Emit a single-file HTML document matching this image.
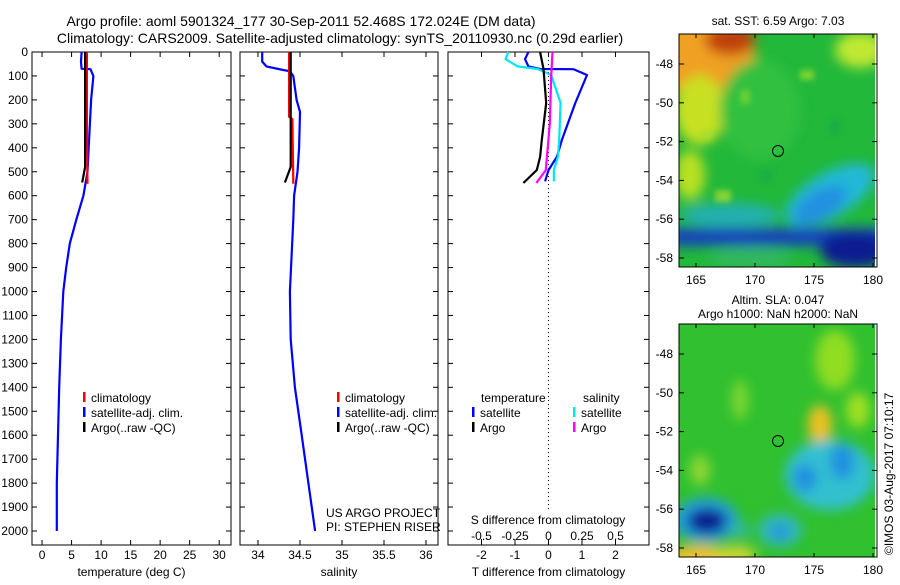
<!DOCTYPE html>
<html><head><meta charset="utf-8">
<style>
html,body{margin:0;padding:0;background:#fff;}
svg text{font-family:"Liberation Sans",sans-serif;font-size:12px;fill:#000;}
</style></head>
<body>
<svg id="chart" width="900" height="580" viewBox="0 0 900 580" xmlns="http://www.w3.org/2000/svg">
<defs>
<filter id="blur6" x="-20%" y="-20%" width="140%" height="140%"><feGaussianBlur stdDeviation="6"/></filter>
<filter id="blur3" x="-20%" y="-20%" width="140%" height="140%"><feGaussianBlur stdDeviation="3"/></filter>
<clipPath id="clipTop"><rect x="679" y="34" width="196" height="233"/></clipPath>
<clipPath id="clipBot"><rect x="679" y="324" width="196" height="233"/></clipPath>
</defs>
<text x="301" y="26" text-anchor="middle" style="font-size:14px">Argo profile: aoml 5901324_177 30-Sep-2011 52.468S 172.024E (DM data)</text>
<text x="340" y="43" text-anchor="middle" style="font-size:14px">Climatology: CARS2009. Satellite-adjusted climatology: synTS_20110930.nc (0.29d earlier)</text>

<!-- Top map -->
<g clip-path="url(#clipTop)">
<rect x="679" y="34" width="196" height="233" fill="#22b83a"/>
<g filter="url(#blur6)">
<ellipse cx="700" cy="55" rx="55" ry="40" fill="#f0a020"/>
<ellipse cx="730" cy="40" rx="25" ry="15" fill="#c04010"/>
<ellipse cx="700" cy="110" rx="25" ry="35" fill="#c8e020"/>
<ellipse cx="690" cy="175" rx="15" ry="25" fill="#b8e020"/>
<ellipse cx="860" cy="50" rx="25" ry="18" fill="#c0e830"/>
<ellipse cx="760" cy="110" rx="40" ry="50" fill="#30c040"/>
<ellipse cx="830" cy="195" rx="50" ry="22" fill="#20b8d8" transform="rotate(-30 830 195)"/>
<ellipse cx="820" cy="205" rx="30" ry="14" fill="#2090e0" transform="rotate(-30 820 205)"/>
<ellipse cx="730" cy="215" rx="50" ry="12" fill="#20b0b0"/>
<rect x="670" y="228" width="220" height="18" fill="#1540c0"/>
<ellipse cx="855" cy="250" rx="35" ry="18" fill="#0a1a90"/>
<ellipse cx="750" cy="258" rx="40" ry="10" fill="#30b860"/>
</g>
<g filter="url(#blur3)" opacity="0.7">
<rect x="700" y="130" width="12" height="10" fill="#a0e030"/>
<rect x="740" y="90" width="10" height="14" fill="#80d830"/>
<rect x="800" y="70" width="14" height="10" fill="#a0e030"/>
<rect x="760" y="170" width="12" height="12" fill="#18a850"/>
<rect x="830" y="120" width="10" height="14" fill="#18a850"/>
<rect x="715" y="190" width="16" height="12" fill="#b0e030"/>
</g>
</g>
<rect x="679" y="34" width="198" height="233" fill="none" stroke="#000"/>
<circle cx="778" cy="151" r="5.5" fill="none" stroke="#000"/>
<text x="778" y="25" text-anchor="middle">sat. SST: 6.59 Argo: 7.03</text>

<!-- Bottom map -->
<g clip-path="url(#clipBot)">
<rect x="679" y="324" width="196" height="233" fill="#30c030"/>
<g filter="url(#blur6)">
<ellipse cx="835" cy="360" rx="20" ry="30" fill="#90dd20"/>
<ellipse cx="858" cy="410" rx="12" ry="18" fill="#a0e020"/>
<ellipse cx="820" cy="425" rx="12" ry="20" fill="#f0c020"/>
<ellipse cx="830" cy="475" rx="45" ry="35" fill="#30c0d0"/>
<ellipse cx="805" cy="478" rx="12" ry="14" fill="#2090e0"/>
<ellipse cx="842" cy="462" rx="12" ry="18" fill="#2090e0"/>
<ellipse cx="780" cy="530" rx="22" ry="16" fill="#30b8c0"/>
<ellipse cx="780" cy="532" rx="9" ry="8" fill="#2090e0"/>
<ellipse cx="706" cy="520" rx="32" ry="22" fill="#20a0e0"/>
<ellipse cx="707" cy="521" rx="20" ry="13" fill="#0a1a90"/>
<ellipse cx="700" cy="560" rx="35" ry="15" fill="#f0c030"/>
<ellipse cx="735" cy="555" rx="22" ry="9" fill="#d0d830"/>
<ellipse cx="740" cy="400" rx="8" ry="20" fill="#80d830"/>
<ellipse cx="700" cy="470" rx="10" ry="15" fill="#90d830"/>
<ellipse cx="740" cy="530" rx="10" ry="8" fill="#30b8a0"/>
</g>
</g>
<rect x="679" y="324" width="198" height="233" fill="none" stroke="#000"/>
<circle cx="778" cy="441" r="5.5" fill="none" stroke="#000"/>
<text x="778" y="304" text-anchor="middle">Altim. SLA: 0.047</text>
<text x="778" y="318" text-anchor="middle">Argo h1000: NaN h2000: NaN</text>
<text transform="translate(893 555) rotate(-90)">©IMOS 03-Aug-2017 07:10:17</text>

<g id="g-plots"></g>
</svg>
<script>
// ---------- data ----------
const depthTicks = [0,100,200,300,400,500,600,700,800,900,1000,1100,1200,1300,1400,1500,1600,1700,1800,1900,2000];
const tempTicks = [0,5,10,15,20,25,30];
const salTicks = [34,34.5,35,35.5,36];
const tDiffTicks = [-2,-1,0,1,2];
const sDiffTicks = [-0.5,-0.25,0,0.25,0.5];
const sDiffTickLabels = ["-0.5","-0.25","0","0.25","0.5"];
const latTicks = [-48,-50,-52,-54,-56,-58];
const lonTicks = [165,170,175,180];

// Temperature profiles
const tSatDepth = [0,40,70,72,100,200,300,400,500,600,700,800,900,1000,1200,1400,1600,1800,2000];
const tSatVal   = [6.7,6.6,6.7,8.2,8.7,8.3,8.1,7.9,7.7,7.0,5.8,4.7,4.1,3.6,3.2,2.9,2.7,2.5,2.5];
const tClimDepth = [0,300,550];
const tClimVal   = [7.6,7.6,7.7];
const tArgoDepth = [0,480,545];
const tArgoVal   = [7.3,7.3,6.8];

// Salinity profiles
const sSatDepth = [0,40,60,75,80,100,200,250,400,500,600,700,1000,1200,1400,1600,1800,2000];
const sSatVal   = [34.05,34.05,34.1,34.3,34.38,34.42,34.46,34.5,34.49,34.47,34.43,34.42,34.38,34.39,34.44,34.52,34.6,34.68];
const sClimDepth = [0,270,280,550];
const sClimVal   = [34.37,34.37,34.41,34.42];
const sArgoDepth = [0,480,545];
const sArgoVal   = [34.39,34.39,34.32];

// Difference profiles
const dTSatDepth = [0,30,60,71,72,96,213,367,438,493,540];
const dTSatVal   = [-0.6,-0.7,-0.6,-0.25,0.75,1.15,0.8,0.4,0.25,0.0,-0.1];
const dSSatDepth = [0,30,60,71,96,213,367,438,493,540];
const dSSatVal   = [-0.3,-0.32,-0.23,-0.08,0.02,0.09,0.08,0.07,0.04,0.04];
const dTArgoDepth = [0,71,213,367,438,493,520,547];
const dTArgoVal   = [-0.25,-0.15,-0.07,-0.2,-0.25,-0.35,-0.55,-0.75];
const dSArgoDepth = [0,100,300,493,547];
const dSArgoVal   = [0.03,0.02,0.01,-0.02,-0.09];

// ---------- axes ----------
const yTop = 52, yPerM = 0.2395, frameBottom = 545;
const yD = d => yTop + d*yPerM;
const P1 = {x0:32,x1:231,min:-1.7,max:32.0};
const P2 = {x0:240,x1:438,min:33.786,max:36.143};
const P3T = {x0:448,x1:649,min:-3,max:3};
const P3S = {x0:448,x1:649,min:-0.75,max:0.75};
const sx = (p,v) => p.x0 + (v-p.min)/(p.max-p.min)*(p.x1-p.x0);
const mapLatY = (top,lat) => top + 30 + (-48-lat)*19.4;
const mapLonX = lon => 696 + (lon-165)*11.8;

const NS = "http://www.w3.org/2000/svg";
const root = document.getElementById('g-plots');
function mk(tag, attrs, parent){
  const e = document.createElementNS(NS, tag);
  for (const k in attrs) e.setAttribute(k, attrs[k]);
  (parent||root).appendChild(e);
  return e;
}
function txt(x,y,s,anchor,parent){
  const t = mk('text',{x:x,y:y,'text-anchor':anchor||'middle'},parent);
  t.textContent = s; return t;
}

function frame(p,name){
  const r = mk('rect',{x:p.x0,y:yTop,width:p.x1-p.x0,height:frameBottom-yTop,fill:'none',stroke:'#000'});
  
  
}
function depthAxis(p, labels){
  const g = mk('g',{});
  
  
  depthTicks.forEach(d=>{
    const y = yD(d);
    mk('line',{x1:p.x0,x2:p.x0+5,y1:y,y2:y,stroke:'#000'},g);
    mk('line',{x1:p.x1-5,x2:p.x1,y1:y,y2:y,stroke:'#000'},g);
    if(labels){ const t = txt(p.x0-4,y+4,String(d),'end',g);
      
       }
  });
}
function xAxis(p, ticks, labels, title, name){
  const g = mk('g',{});
  
  
  ticks.forEach((v,i)=>{
    const x = sx(p,v);
    mk('line',{x1:x,x2:x,y1:yTop,y2:yTop+5,stroke:'#000'},g);
    mk('line',{x1:x,x2:x,y1:frameBottom-5,y2:frameBottom,stroke:'#000'},g);
    const t = txt(x,559,labels[i],'middle',g);
    
    
  });
  const tt = txt((p.x0+p.x1)/2,576,title,'middle',g);
  
  
}
function line(p, depths, vals, color, name, w){
  const pts = depths.map((d,i)=>sx(p,vals[i]).toFixed(1)+','+yD(d).toFixed(1)).join(' ');
  const pl = mk('polyline',{points:pts,fill:'none',stroke:color,'stroke-width':w||2.2,'stroke-linejoin':'round'});
  
  
}
function legend(x, items, y0){
  items.forEach((it,i)=>{
    const y = y0 + i*15;
    const r = mk('rect',{x:x,y:y-10,width:2.5,height:10,fill:it[1]});
    
    
    const t = txt(x+8,y,it[0],'start');
    
    
  });
}

// Panel 1: temperature
frame(P1,'temperature-panel-frame');
depthAxis(P1,true);
xAxis(P1,tempTicks,tempTicks.map(String),'temperature (deg C)','temperature-x-axis');
line(P1,tSatDepth,tSatVal,'#0000ff','temp-satellite-line');
line(P1,tClimDepth,tClimVal,'#ff0000','temp-climatology-line');
line(P1,tArgoDepth,tArgoVal,'#000000','temp-argo-line');
legend(83,[['climatology','#ff0000'],['satellite-adj. clim.','#0000ff'],['Argo(..raw -QC)','#000000']],402);

// Panel 2: salinity
frame(P2,'salinity-panel-frame');
depthAxis(P2,false);
xAxis(P2,salTicks,salTicks.map(String),'salinity','salinity-x-axis');
line(P2,sSatDepth,sSatVal,'#0000ff','sal-satellite-line');
line(P2,sClimDepth,sClimVal,'#ff0000','sal-climatology-line');
line(P2,sArgoDepth,sArgoVal,'#000000','sal-argo-line');
legend(337,[['climatology','#ff0000'],['satellite-adj. clim.','#0000ff'],['Argo(..raw -QC)','#000000']],402);
const c1 = txt(326,517,'US ARGO PROJECT','start');  
const c2 = txt(326,531,'PI: STEPHEN RISER','start');  

// Panel 3: differences
frame(P3T,'difference-panel-frame');
depthAxis(P3T,false);
xAxis(P3T,tDiffTicks,tDiffTicks.map(String),'T difference from climatology','t-diff-x-axis');
const zl = mk('line',{x1:sx(P3T,0),x2:sx(P3T,0),y1:yTop,y2:frameBottom,stroke:'#000','stroke-dasharray':'1,3'});
 
const sg = mk('g',{});


mk('rect',{x:462,y:509,width:175,height:31,fill:'#fff'},sg);
sDiffTicks.forEach((v,i)=>{
  const x = sx(P3S,v);
  mk('line',{x1:x,x2:x,y1:frameBottom-6,y2:frameBottom,stroke:'#000'},sg);
  const t = txt(x,540,sDiffTickLabels[i],'middle',sg);
  
  
});
const st = txt(548,524,'S difference from climatology','middle',sg);
 
line(P3T,dTSatDepth,dTSatVal,'#0000ff','t-diff-satellite-line');
line(P3S,dSSatDepth,dSSatVal,'#00e5ee','s-diff-satellite-line');
line(P3T,dTArgoDepth,dTArgoVal,'#000000','t-diff-argo-line');
line(P3S,dSArgoDepth,dSArgoVal,'#ff00ff','s-diff-argo-line');
const lh1 = txt(481,402,'temperature','start');  
const lh2 = txt(583,402,'salinity','start');  
legend(472,[['satellite','#0000ff'],['Argo','#000000']],417);
legend(573,[['satellite','#00e5ee'],['Argo','#ff00ff']],417);

// Map axes
[[34,'sst'],[324,'sla']].forEach(([top,nm])=>{
  const g = mk('g',{});
  
  
  latTicks.forEach(lat=>{
    const y = mapLatY(top,lat);
    mk('line',{x1:679,x2:684,y1:y,y2:y,stroke:'#000'},g);
    mk('line',{x1:872,x2:877,y1:y,y2:y,stroke:'#000'},g);
    const t = txt(673,y+4,String(lat),'end',g);
    
    
  });
  lonTicks.forEach(lon=>{
    const x = mapLonX(lon);
    mk('line',{x1:x,x2:x,y1:top,y2:top+4,stroke:'#000'},g);
    mk('line',{x1:x,x2:x,y1:top+229,y2:top+233,stroke:'#000'},g);
    const t = txt(x,top+250,String(lon),'middle',g);
    
    
  });
});
</script>
</body></html>
